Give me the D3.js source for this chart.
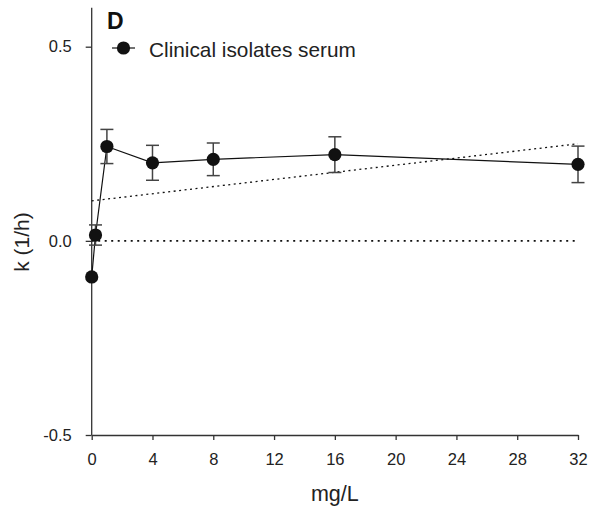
<!DOCTYPE html>
<html>
<head>
<meta charset="utf-8">
<script src="https://cdn.jsdelivr.net/npm/d3@7"></script>
<style>
  html, body { margin: 0; padding: 0; background: #fff; }
  svg { display: block; font-family: "Liberation Sans", Arial, Helvetica, sans-serif; }
</style>
</head>
<body>
<svg id="chart" width="595" height="507"></svg>
<script>
// Growth-rate constant k versus concentration
const concentrations = [0, 0.25, 1, 4, 8, 16, 32];
const kValues        = [-0.093, 0.015, 0.243, 0.201, 0.210, 0.222, 0.197];
const kErrors        = [0, 0.026, 0.044, 0.045, 0.042, 0.046, 0.047];

// Linear trend drawn as a dotted line
const trendX = [0, 32];
const trendY = [0.103, 0.250];

const xTicks = [0, 4, 8, 12, 16, 20, 24, 28, 32];
const yTicks = [-0.5, 0.0, 0.5];
const yTickLabels = ["-0.5", "0.0", "0.5"];

const seriesName = "Clinical isolates serum";
const panelLabel = "D";
const xTitle = "mg/L";
const yTitle = "k (1/h)";

const svg = d3.select("#chart");

const x = d3.scaleLinear().domain([0, 32]).range([91.7, 578]);
const y = d3.scaleLinear().domain([-0.5, 0.5]).range([435, 46.7]);
const yTop = 0.6;

// Axes
const xAxis = d3.axisBottom(x)
  .tickValues(xTicks)
  .tickFormat(d3.format("d"))
  .tickSize(5)
  .tickSizeOuter(0)
  .tickPadding(13);

const gx = svg.append("g")
  .attr("transform", `translate(0,${y(-0.5)})`)
  .call(xAxis);

const yAxis = d3.axisLeft(y)
  .tickValues(yTicks)
  .tickFormat((d, i) => yTickLabels[i])
  .tickSize(6)
  .tickSizeOuter(0)
  .tickPadding(14);

const gy = svg.append("g")
  .attr("transform", `translate(${x(0)},0)`)
  .call(yAxis);

// extend the y axis line up to the top of the range
gy.select(".domain").attr("d", `M0,${y(-0.5)}V${y(yTop)}`);

[gx, gy].forEach(g => {
  g.attr("font-size", null).attr("font-family", null);
  g.select(".domain").attr("stroke", "#333").attr("stroke-width", 1.3);
  g.selectAll(".tick line").attr("stroke", "#333").attr("stroke-width", 1.3);
  g.selectAll(".tick text")
    .attr("fill", "#222")
    .style("font-size", "16.5px");
});

// zero reference line
svg.append("line")
  .attr("x1", x(0)).attr("x2", x(32))
  .attr("y1", y(0)).attr("y2", y(0))
  .attr("stroke", "#111")
  .attr("stroke-width", 1.8)
  .attr("stroke-dasharray", "2,4.5");

// trend line
svg.append("line")
  .attr("x1", x(trendX[0])).attr("x2", x(trendX[1]))
  .attr("y1", y(trendY[0])).attr("y2", y(trendY[1]))
  .attr("stroke", "#111")
  .attr("stroke-width", 1.3)
  .attr("stroke-dasharray", "2,3.5");

const points = concentrations.map((c, i) => ({ c, k: kValues[i], e: kErrors[i] }));

// connecting line
svg.append("path")
  .datum(points)
  .attr("fill", "none")
  .attr("stroke", "#111")
  .attr("stroke-width", 1.2)
  .attr("d", d3.line().x(d => x(d.c)).y(d => y(d.k)));

// error bars
const eb = svg.append("g").attr("stroke", "#444").attr("stroke-width", 1.5);
points.filter(d => d.e > 0).forEach(d => {
  const cx = x(d.c);
  eb.append("line").attr("x1", cx).attr("x2", cx).attr("y1", y(d.k - d.e)).attr("y2", y(d.k + d.e));
  eb.append("line").attr("x1", cx - 6.5).attr("x2", cx + 6.5).attr("y1", y(d.k + d.e)).attr("y2", y(d.k + d.e));
  eb.append("line").attr("x1", cx - 6.5).attr("x2", cx + 6.5).attr("y1", y(d.k - d.e)).attr("y2", y(d.k - d.e));
});

// markers
svg.append("g").selectAll("circle")
  .data(points)
  .join("circle")
  .attr("cx", d => x(d.c))
  .attr("cy", d => y(d.k))
  .attr("r", 6.6)
  .attr("fill", "#111");

// panel letter
svg.append("text")
  .attr("x", 107).attr("y", 29)
  .style("font-size", "23px")
  .style("font-weight", "bold")
  .attr("fill", "#111")
  .text(panelLabel);

// legend
const legend = svg.append("g");
legend.append("line")
  .attr("x1", 112).attr("x2", 135)
  .attr("y1", 48).attr("y2", 48)
  .attr("stroke", "#111").attr("stroke-width", 1.2);
legend.append("circle")
  .attr("cx", 123.5).attr("cy", 48).attr("r", 6.6).attr("fill", "#111");
legend.append("text")
  .attr("x", 149).attr("y", 57)
  .style("font-size", "20.8px")
  .attr("fill", "#222")
  .text(seriesName);

// axis titles
svg.append("text")
  .attr("x", (x(0) + x(32)) / 2).attr("y", 501)
  .attr("text-anchor", "middle")
  .style("font-size", "21.5px")
  .attr("fill", "#222")
  .text(xTitle);

svg.append("text")
  .attr("transform", "translate(29,242) rotate(-90)")
  .attr("text-anchor", "middle")
  .style("font-size", "21px")
  .attr("fill", "#222")
  .text(yTitle);
</script>
</body>
</html>
